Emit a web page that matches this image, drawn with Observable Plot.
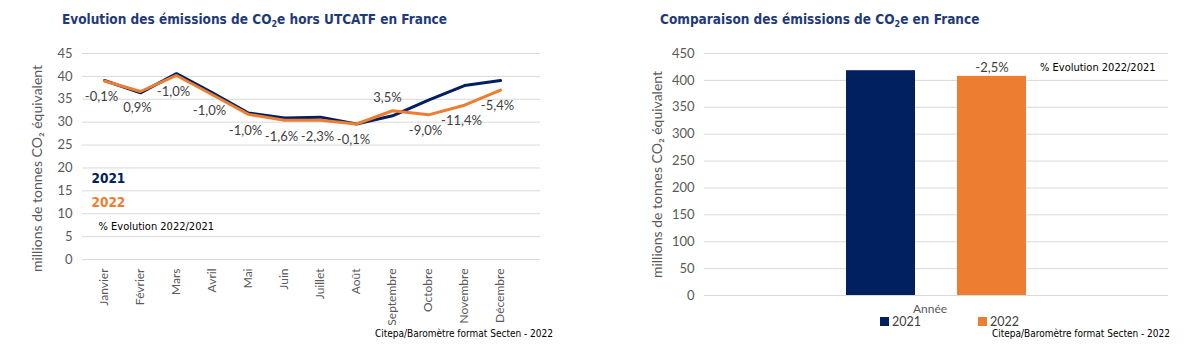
<!DOCTYPE html>
<html>
<head>
<meta charset="utf-8">
<script src="https://cdn.jsdelivr.net/npm/d3@7"></script>
<script src="https://cdn.jsdelivr.net/npm/@observablehq/plot@0.6"></script>
<style>
  html, body { margin: 0; padding: 0; background: #fff; }
  #root { position: relative; width: 1200px; height: 360px; overflow: hidden; font-family: Lato, "Open Sans", sans-serif; }
  .panel { position: absolute; top: 0; width: 600px; height: 360px; }
  .title { position: absolute; top: 11px; font-family: "DejaVu Sans Condensed", "DejaVu Sans", sans-serif; font-weight: bold; font-size: 13.5px; color: #1f3a7a; white-space: nowrap; }
  .title sub { font-size: 9px; vertical-align: -3px; line-height: 0; }
  .source { position: absolute; top: 328px; font-family: "DejaVu Sans Condensed", "DejaVu Sans", sans-serif; font-size: 10px; line-height: 11px; color: #000; white-space: nowrap; }
  .annee { position: absolute; top: 302px; font-size: 12px; line-height: 13px; color: #595959; }
  .legend { position: absolute; top: 315px; font-size: 12.5px; line-height: 13px; color: #404040; }
  .legend span.sw { display: inline-block; width: 9px; height: 9px; margin-right: 3px; vertical-align: 0px; }
  .legend .item { position: absolute; white-space: nowrap; }
</style>
</head>
<body>
<div id="root">
  <div class="panel" id="left" style="left:0"></div>
  <div class="panel" id="right" style="left:600px"></div>
  <div class="title" style="left:62px">Evolution des émissions de CO<sub>2</sub>e hors UTCATF en France</div>
  <div class="title" style="left:660px">Comparaison des émissions de CO<sub>2</sub>e en France</div>
  <div class="source" style="right:647px">Citepa/Baromètre format Secten - 2022</div>
  <div class="source" style="right:30px">Citepa/Baromètre format Secten - 2022</div>
  <div class="annee" style="left:913px">Année</div>
  <div class="legend" id="legend"></div>
</div>
<script>
// ---- data ----
const months = ["Janvier","Février","Mars","Avril","Mai","Juin","Juillet","Août","Septembre","Octobre","Novembre","Décembre"];
const emissions2021 = [39.1, 36.4, 40.6, 36.4, 32.0, 30.9, 31.1, 29.6, 31.4, 34.8, 38.0, 39.1];
const emissions2022 = [39.0, 36.7, 40.2, 36.0, 31.7, 30.4, 30.4, 29.6, 32.5, 31.6, 33.7, 37.0];
const evolutionLabels = ["-0,1%","0,9%","-1,0%","-1,0%","-1,0%","-1,6%","-2,3%","-0,1%","3,5%","-9,0%","-11,4%","-5,4%"];
const years = ["2021","2022"];
const annualTotals = [418.0, 407.5];
const annualEvolution = "-2,5%";
const evolutionNote = "% Evolution 2022/2021";
const yAxisTitle = "millions de tonnes CO₂ équivalent";
const colors = ["#002060", "#ED7D31"];
const yTicksLeft = d3.range(0, 46, 5);
const yTicksRight = d3.range(0, 451, 50);

const rows = [];
months.forEach((m, i) => rows.push({month: m, year: "2021", value: emissions2021[i]}));
months.forEach((m, i) => rows.push({month: m, year: "2022", value: emissions2022[i]}));
const evo = months.map((m, i) => ({month: m, v21: emissions2021[i], v22: emissions2022[i], label: evolutionLabels[i]}));

const font = "Lato, 'Open Sans', sans-serif";
const condensed = "'DejaVu Sans Condensed', 'DejaVu Sans', sans-serif";

// ---- left chart ----
const left = Plot.plot({
  width: 600, height: 360,
  marginLeft: 82, marginRight: 60, marginTop: 53, marginBottom: 101,
  style: {fontFamily: font, fontSize: "12px", color: "#595959", background: "transparent"},
  x: {type: "point", domain: months, range: [82, 521], label: null},
  y: {domain: [0, 45], ticks: yTicksLeft, label: null},
  color: {domain: years, range: colors},
  marks: [
    Plot.ruleY(yTicksLeft, {stroke: "#d9d9d9", strokeWidth: 1}),
    Plot.axisY({ticks: yTicksLeft, tickSize: 0, tickPadding: 10, fontSize: 13, fill: "#595959", label: null}),
    Plot.axisX({tickRotate: -90, tickSize: 0, tickPadding: 9, fontSize: 12, fill: "#595959", label: null}),
    Plot.text([yAxisTitle], {frameAnchor: "left", dx: -45, dy: 12, rotate: -90, textAnchor: "middle", fontSize: 14, fill: "#595959"}),
    Plot.line(rows, {x: "month", y: "value", z: "year", stroke: "year", strokeWidth: 3, strokeLinejoin: "round"}),
    Plot.text(evo.filter(d => d.v22 - d.v21 <= 0.5), {x: "month", y: "v22", text: "label", dy: 16, dx: -3, fontSize: 13, fill: "#404040"}),
    Plot.text(evo.filter(d => d.v22 - d.v21 > 0.5), {x: "month", y: "v22", text: "label", dy: -13, dx: -5, fontSize: 13, fill: "#404040"}),
    Plot.text([years[0]], {frameAnchor: "top-left", dx: 9, dy: 120, textAnchor: "start", fill: colors[0], fontSize: 13.5, fontWeight: 600, fontFamily: condensed}),
    Plot.text([years[1]], {frameAnchor: "top-left", dx: 9, dy: 144, textAnchor: "start", fill: colors[1], fontSize: 13.5, fontWeight: 600, fontFamily: condensed}),
    Plot.text([evolutionNote], {frameAnchor: "top-left", dx: 16, dy: 169, textAnchor: "start", fill: "#000", fontSize: 11, fontFamily: condensed})
  ]
});
document.getElementById("left").appendChild(left);

// ---- right chart ----
const bars = years.map((y, i) => ({year: y, value: annualTotals[i]}));
const right = Plot.plot({
  width: 600, height: 360,
  marginLeft: 104, marginRight: 32, marginTop: 53, marginBottom: 65,
  style: {fontFamily: font, fontSize: "12px", color: "#595959", background: "transparent"},
  x: {type: "band", domain: years, paddingInner: 0.375, paddingOuter: 1.26, align: 0.5, axis: null},
  y: {domain: [0, 450], ticks: yTicksRight, label: null},
  color: {domain: years, range: colors},
  marks: [
    Plot.ruleY(yTicksRight, {stroke: "#d9d9d9", strokeWidth: 1}),
    Plot.axisY({ticks: yTicksRight, tickSize: 0, tickPadding: 10, fontSize: 13, fill: "#595959", label: null}),
    Plot.text([yAxisTitle], {frameAnchor: "left", dx: -47, rotate: -90, textAnchor: "middle", fontSize: 14, fill: "#595959"}),
    Plot.barY(bars, {x: "year", y: "value", fill: "year"}),
    Plot.text(bars.slice(1), {x: "year", y: "value", text: () => annualEvolution, dy: -9, fontSize: 13, fill: "#404040"}),
    Plot.text(bars.slice(1), {x: "year", y: "value", text: () => evolutionNote, dy: -9, dx: 48, textAnchor: "start", fontSize: 11, fill: "#000", fontFamily: condensed})
  ]
});
document.getElementById("right").appendChild(right);

// bottom legend for right chart
const legend = document.getElementById("legend");
years.forEach((y, i) => {
  const item = document.createElement("div");
  item.className = "item";
  item.style.left = (880 + i * 98) + "px";
  item.innerHTML = `<span class="sw" style="background:${colors[i]}"></span>${y}`;
  legend.appendChild(item);
});
</script>
</body>
</html>
